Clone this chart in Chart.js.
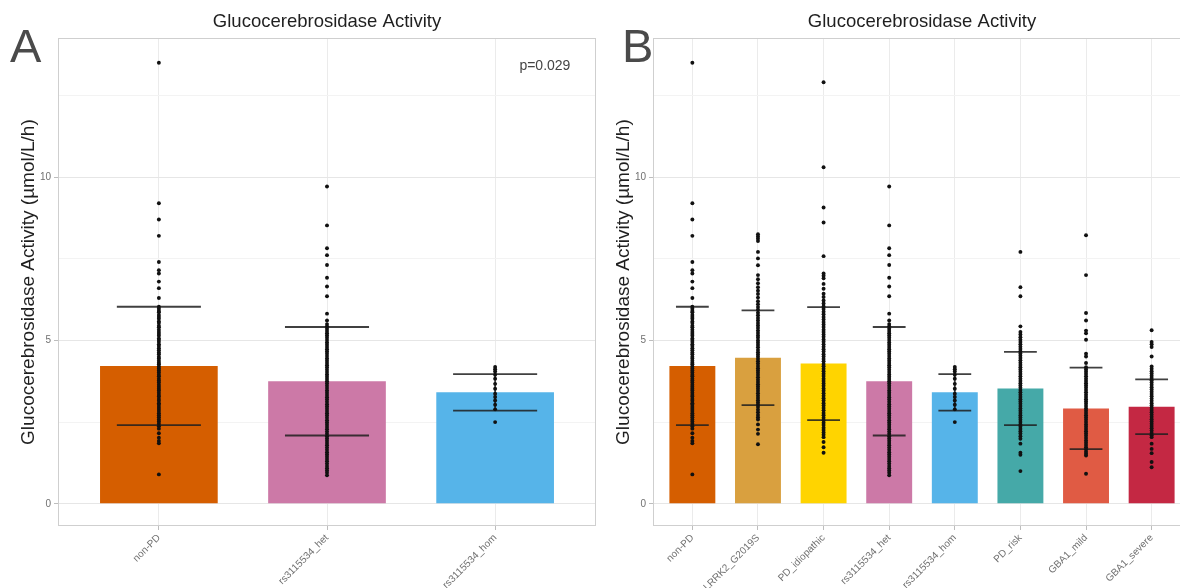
<!DOCTYPE html>
<html>
<head>
<meta charset="utf-8">
<title>Glucocerebrosidase Activity</title>
<script src="https://cdn.jsdelivr.net/npm/chart.js@4.4.1/dist/chart.umd.min.js"></script>
<style>
  html, body { margin: 0; padding: 0; background: #ffffff; width: 1180px; height: 588px; overflow: hidden; position: relative; }
  .panel { position: absolute; top: 0; width: 600px; height: 588px; }
  canvas { display: block; }
</style>
</head>
<body>
<div class="panel" style="left:0px"><canvas id="panelA" width="600" height="588"></canvas></div>
<div class="panel" style="left:595px"><canvas id="panelB" width="600" height="588"></canvas></div>
<script>
// ---- groups, summary statistics and per-subject activity values ----
const groupNames = ['non-PD', 'LRRK2_G2019S', 'PD_idiopathic', 'rs3115534_het', 'rs3115534_hom', 'PD_risk', 'GBA1_mild', 'GBA1_severe'];
const groupColors = ['#D55E00', '#D9A03F', '#FFD400', '#CC79A7', '#56B4E9', '#45A9A8', '#E05B44', '#C42843'];
const meanActivity = [4.22, 4.47, 4.29, 3.75, 3.41, 3.53, 2.92, 2.97];
const sdActivity = [1.81, 1.45, 1.73, 1.66, 0.56, 1.12, 1.25, 0.84];
const genotypeGroups = ['non-PD', 'rs3115534_het', 'rs3115534_hom'];
const yTicks = [0, 2.5, 5, 7.5, 10, 12.5];
const yRange = [-0.68, 14.25];
const chartTitle = 'Glucocerebrosidase Activity';
const yAxisTitle = 'Glucocerebrosidase Activity (\u00b5mol/L/h)';
const pValueLabel = 'p=0.029';

const ptsNonPD = [13.5, 9.2, 8.7, 8.2, 7.4, 7.15, 7.05, 6.8, 6.6, 6.3,
  6.03, 5.97, 5.9, 5.86, 5.78, 5.72, 5.66, 5.58, 5.53, 5.45, 5.4, 5.33, 5.26, 5.2, 5.14, 5.06, 5.01, 4.95, 4.88, 4.83,
  4.76, 4.7, 4.63, 4.58, 4.5, 4.45, 4.38, 4.32, 4.27, 4.2, 4.14, 4.08, 4.02, 3.95, 3.9, 3.83, 3.77, 3.71, 3.64, 3.58,
  3.52, 3.47, 3.4, 3.33, 3.28, 3.21, 3.15, 3.08, 3.03, 2.96, 2.9, 2.84, 2.77, 2.71, 2.65, 2.58, 2.52, 2.45, 2.37, 2.3,
  2.16, 2.02, 1.92, 1.85, 0.9];
const ptsLRRK2 = [8.25, 8.18, 8.11, 8.04, 7.71, 7.51, 7.3, 7.0, 6.87, 6.75, 6.63, 6.52, 6.42, 6.31, 6.2, 6.11, 6.02, 5.94, 5.85,
  5.77, 5.69, 5.61, 5.53, 5.46, 5.38, 5.3, 5.23, 5.15, 5.08, 5.0, 4.93, 4.86, 4.79, 4.71, 4.64, 4.57, 4.5, 4.43, 4.36,
  4.29, 4.22, 4.15, 4.08, 4.01, 3.94, 3.87, 3.8, 3.73, 3.66, 3.59, 3.52, 3.45, 3.38, 3.31, 3.24, 3.17, 3.1, 3.03, 2.96,
  2.88, 2.8, 2.72, 2.65, 2.58, 2.43, 2.27, 2.14, 1.82];
const ptsIdiopathic = [12.9, 10.3, 9.07, 8.61, 7.58, 7.05, 6.98, 6.9, 6.73, 6.58, 6.43, 6.33, 6.22, 6.13, 6.04, 5.96, 5.88,
  5.8, 5.72, 5.64, 5.56, 5.49, 5.41, 5.33, 5.26, 5.18, 5.11, 5.03, 4.96, 4.88, 4.81, 4.73, 4.66, 4.58, 4.51, 4.43, 4.36,
  4.28, 4.21, 4.13, 4.06, 3.98, 3.91, 3.83, 3.76, 3.68, 3.61, 3.53, 3.46, 3.38, 3.31, 3.23, 3.16, 3.08, 3.01, 2.93,
  2.86, 2.78, 2.71, 2.63, 2.56, 2.48, 2.41, 2.33, 2.26, 2.18, 2.11, 2.04, 1.89, 1.73, 1.56];
const ptsHet = [9.71, 8.52, 7.82, 7.61, 7.31, 6.92, 6.65, 6.35, 5.82, 5.61, 5.5, 5.43, 5.36, 5.29, 5.22, 5.15, 5.08, 5.01,
  4.94, 4.87, 4.8, 4.73, 4.66, 4.59, 4.52, 4.45, 4.38, 4.31, 4.24, 4.17, 4.1, 4.03, 3.96, 3.89, 3.82, 3.75, 3.68, 3.61,
  3.54, 3.47, 3.4, 3.33, 3.26, 3.19, 3.12, 3.05, 2.98, 2.91, 2.84, 2.77, 2.7, 2.63, 2.56, 2.49, 2.42, 2.35, 2.28, 2.21,
  2.14, 2.07, 2.0, 1.93, 1.86, 1.79, 1.72, 1.65, 1.58, 1.51, 1.44, 1.37, 1.3, 1.23, 1.16, 1.09, 1.02, 0.95, 0.87];
const ptsHom = [4.19, 4.12, 4.05, 3.95, 3.83, 3.67, 3.52, 3.37, 3.27, 3.16, 3.03, 2.89, 2.5];
const ptsRisk = [7.71, 6.63, 6.35, 5.43, 5.26, 5.18, 5.1, 5.02, 4.95, 4.88, 4.81, 4.74, 4.67, 4.6, 4.53, 4.46, 4.39, 4.32,
  4.25, 4.18, 4.11, 4.04, 3.97, 3.9, 3.83, 3.76, 3.69, 3.62, 3.55, 3.48, 3.41, 3.34, 3.27, 3.2, 3.13, 3.06, 2.99, 2.92,
  2.85, 2.78, 2.71, 2.64, 2.57, 2.5, 2.43, 2.36, 2.29, 2.22, 2.15, 2.07, 1.99, 1.84, 1.56, 1.5, 1.0];
const ptsMild = [8.22, 7.0, 5.84, 5.61, 5.3, 5.22, 5.02, 4.59, 4.51, 4.31, 4.18, 4.11, 4.04, 3.97, 3.9, 3.83, 3.76, 3.69,
  3.62, 3.55, 3.48, 3.41, 3.34, 3.27, 3.2, 3.13, 3.06, 2.99, 2.92, 2.85, 2.78, 2.71, 2.64, 2.57, 2.5, 2.43, 2.36, 2.29,
  2.22, 2.15, 2.08, 2.01, 1.94, 1.87, 1.8, 1.73, 1.66, 1.59, 1.53, 1.48, 0.92];
const ptsSevere = [5.31, 4.95, 4.88, 4.8, 4.51, 4.2, 4.13, 4.06, 3.99, 3.92, 3.85, 3.78, 3.71, 3.64, 3.57, 3.5, 3.43, 3.36,
  3.29, 3.22, 3.15, 3.08, 3.01, 2.94, 2.87, 2.8, 2.73, 2.66, 2.59, 2.52, 2.45, 2.38, 2.31, 2.24, 2.17, 2.1, 2.04, 1.84,
  1.68, 1.55, 1.28, 1.12];
const groupPoints = [ptsNonPD, ptsLRRK2, ptsIdiopathic, ptsHet, ptsHom, ptsRisk, ptsMild, ptsSevere];

// ---- drawing ----
const FONT = '"Liberation Sans", Arial, Helvetica, sans-serif';
Chart.defaults.font.family = FONT;

function makePanel(canvasId, names, letter, letterX, note) {
  const idx = names.map(n => groupNames.indexOf(n));
  const n = names.length;

  // mean ± SD error bars, drawn right after the bars so the points sit on top
  const sdBars = {
    id: 'sdBars',
    afterDatasetDraw(chart, args) {
      if (args.index !== 0) return;
      const { ctx, scales: { x, y } } = chart;
      ctx.save();
      ctx.strokeStyle = 'rgba(30,30,30,0.85)';
      ctx.lineWidth = 1.8;
      idx.forEach((g, i) => {
        const hi = y.getPixelForValue(meanActivity[g] + sdActivity[g]);
        const lo = y.getPixelForValue(meanActivity[g] - sdActivity[g]);
        const l = x.getPixelForValue(i - 0.25);
        const r = x.getPixelForValue(i + 0.25);
        const c = x.getPixelForValue(i);
        ctx.beginPath();
        ctx.moveTo(l, hi); ctx.lineTo(r, hi);
        ctx.moveTo(l, lo); ctx.lineTo(r, lo);
        ctx.moveTo(c, hi); ctx.lineTo(c, lo);
        ctx.stroke();
      });
      ctx.restore();
    }
  };

  // panel frame, panel letter and optional test annotation
  const panelDecor = {
    id: 'panelDecor',
    afterDraw(chart) {
      const { ctx, chartArea: a } = chart;
      ctx.save();
      ctx.strokeStyle = '#cfcfcf';
      ctx.lineWidth = 1;
      ctx.strokeRect(Math.round(a.left) + 0.5, Math.round(a.top) + 0.5, Math.round(a.right - a.left) - 1, Math.round(a.bottom - a.top) - 1);
      ctx.fillStyle = '#4a4a4a';
      ctx.font = '47px ' + FONT;
      ctx.textAlign = 'left';
      ctx.textBaseline = 'alphabetic';
      ctx.fillText(letter, letterX, 62);
      if (note) {
        ctx.font = '14px ' + FONT;
        ctx.fillStyle = '#444444';
        ctx.textAlign = 'center';
        ctx.textBaseline = 'middle';
        ctx.fillText(note, a.left + (a.right - a.left) * 0.905, 66);
      }
      ctx.restore();
    }
  };

  return new Chart(document.getElementById(canvasId), {
    type: 'bar',
    data: {
      datasets: [
        {
          type: 'bar',
          data: idx.map((g, i) => ({ x: i, y: meanActivity[g] })),
          backgroundColor: idx.map(g => groupColors[g]),
          borderWidth: 0,
          categoryPercentage: 1,
          barPercentage: 0.7,
          order: 2
        },
        {
          type: 'scatter',
          data: idx.flatMap((g, i) => groupPoints[g].map(v => ({ x: i, y: v }))),
          pointRadius: 1.95,
          pointBackgroundColor: '#111111',
          pointBorderWidth: 0,
          order: 1
        }
      ]
    },
    options: {
      responsive: false,
      animation: false,
      devicePixelRatio: 1,
      layout: { padding: { top: 0, left: 0, right: 2, bottom: 0 } },
      plugins: {
        legend: { display: false },
        tooltip: { enabled: false },
        title: {
          display: true,
          text: chartTitle,
          fullSize: false,
          color: '#1f1f1f',
          font: { size: 18.5, weight: 'normal', family: FONT },
          padding: { top: 11, bottom: 5 }
        }
      },
      scales: {
        x: {
          type: 'linear',
          offset: false,
          min: -0.6,
          max: n - 1 + 0.6,
          afterBuildTicks: s => { s.ticks = names.map((_, i) => ({ value: i })); },
          afterFit: s => { s.height = 62; },
          ticks: {
            autoSkip: false,
            minRotation: 45,
            maxRotation: 45,
            padding: 2,
            color: '#707070',
            font: { size: 10 },
            callback: v => names[v]
          },
          grid: { offset: false, color: '#ebebeb', lineWidth: 1, tickColor: '#bdbdbd', tickLength: 4 },
          border: { display: false }
        },
        y: {
          type: 'linear',
          min: yRange[0],
          max: yRange[1],
          afterBuildTicks: s => { s.ticks = yTicks.map(v => ({ value: v })); },
          afterFit: s => { s.width = 58; },
          ticks: {
            padding: 3,
            color: '#707070',
            font: { size: 10 },
            callback: v => (v % 5 === 0 ? String(v) : '')
          },
          grid: {
            color: c => (c.tick && c.tick.value % 5 === 0 ? '#e6e6e6' : '#f3f3f3'),
            tickColor: c => (c.tick && c.tick.value % 5 === 0 ? '#bdbdbd' : 'rgba(0,0,0,0)'),
            tickLength: 4,
            lineWidth: 1
          },
          border: { display: false },
          title: {
            display: true,
            text: yAxisTitle,
            color: '#1f1f1f',
            font: { size: 19, family: FONT },
            padding: { top: 17, bottom: 0 }
          }
        }
      }
    },
    plugins: [sdBars, panelDecor]
  });
}

makePanel('panelA', genotypeGroups, 'A', 10, pValueLabel);
makePanel('panelB', groupNames, 'B', 27, null);
</script>
</body>
</html>
